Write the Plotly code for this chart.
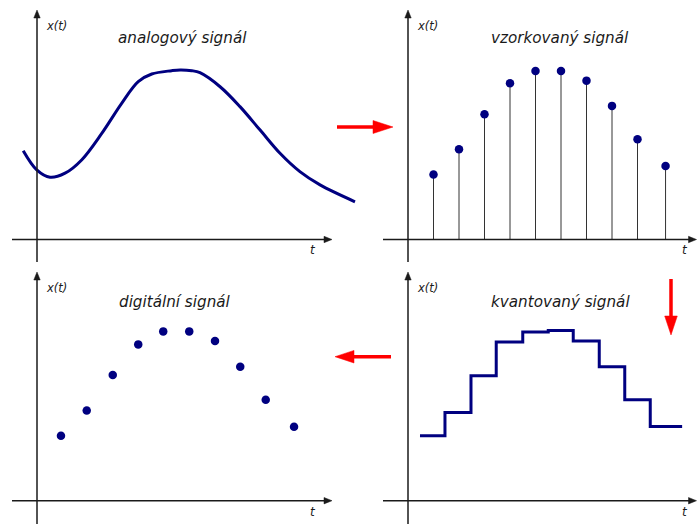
import plotly.graph_objects as go

# ---------------- data ----------------
# analog signal x(t)
analog_t = [-0.54, -0.01, 0.51, 1.10, 1.75, 2.54, 3.32, 3.97, 4.50, 5.28, 5.61,
            6.07, 6.39, 7.18, 7.96, 8.75, 9.53, 10.31, 11.10, 12.47]
analog_x = [3.48, 2.73, 2.44, 2.60, 3.12, 4.16, 5.34, 6.19, 6.49, 6.62, 6.65,
            6.62, 6.54, 5.99, 5.21, 4.29, 3.38, 2.66, 2.14, 1.48]

# sampled signal
sample_t = [1.0, 2.0, 3.0, 4.0, 5.0, 6.0, 7.0, 8.0, 9.0, 10.1]
sample_x = [2.55, 3.54, 4.91, 6.13, 6.61, 6.61, 6.23, 5.24, 3.93, 2.88]

# quantized signal (step edges and levels)
quant_edges = [0.47, 1.45, 2.47, 3.46, 4.50, 5.50, 6.48, 7.50, 8.50, 9.50, 10.75]
quant_levels = [2.55, 3.46, 4.90, 6.22, 6.62, 6.67, 6.26, 5.25, 3.96, 2.91]

# digital signal
digital_t = [0.94, 1.95, 2.97, 3.97, 4.95, 5.97, 6.98, 7.97, 8.97, 10.08]
digital_x = [2.55, 3.54, 4.93, 6.13, 6.64, 6.64, 6.26, 5.25, 3.96, 2.90]

titles = ["analogový signál", "vzorkovaný signál", "digitální signál", "kvantovaný signál"]
y_label = "x(t)"
t_label = "t"

# ---------------- layout geometry ----------------
W, H = 697, 524
S = 25.5  # pixels per unit
NAVY = "#000080"
AX = "#1a1a1a"
FONT = "DejaVu Sans"

# panels: (x0, x1, y0, y1, origin_x, origin_y) in pixels from top-left
panels = [
    (0, 364, 0, 262, 37, 239.5),
    (370, 697, 0, 262, 408, 239.5),
    (0, 364, 262, 524, 37, 500.7),
    (370, 697, 262, 524, 408, 500.7),
]

fig = go.Figure()
layout = {}
shapes = []
annotations = []

for i, (x0, x1, y0, y1, ox, oy) in enumerate(panels):
    n = "" if i == 0 else str(i + 1)
    xa, ya = "xaxis" + n, "yaxis" + n
    xr, yr = "x" + n, "y" + n
    layout[xa] = dict(domain=[x0 / W, x1 / W], range=[(x0 - ox) / S, (x1 - ox) / S],
                      showgrid=False, zeroline=False, showticklabels=False, ticks="",
                      showline=False, anchor=yr, fixedrange=True)
    layout[ya] = dict(domain=[1 - y1 / H, 1 - y0 / H], range=[(oy - y1) / S, (oy - y0) / S],
                      showgrid=False, zeroline=False, showticklabels=False, ticks="",
                      showline=False, anchor=xr, fixedrange=True)

    top = i < 2
    x_left = -25 / S
    x_tip = (295 if i % 2 == 0 else 288.5) / S
    y_bot = -(24.5 if top else 23.3) / S
    y_tip = (229.5 if top else 228.7) / S
    hl, hw = 8 / S, 3.2 / S
    # axis lines
    shapes.append(dict(type="line", xref=xr, yref=yr, x0=x_left, y0=0, x1=x_tip - hl * 0.5, y1=0,
                       line=dict(color=AX, width=1.5)))
    shapes.append(dict(type="line", xref=xr, yref=yr, x0=0, y0=y_bot, x1=0, y1=y_tip - hl * 0.5,
                       line=dict(color=AX, width=1.5)))
    # arrow heads
    shapes.append(dict(type="path", xref=xr, yref=yr,
                       path=f"M {x_tip} 0 L {x_tip - hl} {hw} L {x_tip - hl} {-hw} Z",
                       fillcolor=AX, line=dict(color=AX, width=0.5)))
    shapes.append(dict(type="path", xref=xr, yref=yr,
                       path=f"M 0 {y_tip} L {hw} {y_tip - hl} L {-hw} {y_tip - hl} Z",
                       fillcolor=AX, line=dict(color=AX, width=0.5)))
    # labels
    annotations.append(dict(xref=xr, yref=yr, x=19 / S, y=(213.5 if top else 212.7) / S,
                            text=y_label, showarrow=False, xanchor="center", yanchor="middle",
                            font=dict(family=FONT, size=11.5, color=AX, style="italic")))
    annotations.append(dict(xref=xr, yref=yr, x=(276 if i % 2 == 0 else 277) / S,
                            y=-(10.8 if top else 11.3) / S,
                            text=t_label, showarrow=False, xanchor="center", yanchor="middle",
                            font=dict(family=FONT, size=12, color=AX, style="italic")))

title_pos = [(182, 38), (560, 38), (175.5, 302), (560.5, 302)]
for (px_, py_), txt in zip(title_pos, titles):
    annotations.append(dict(xref="paper", yref="paper", x=px_ / W, y=1 - py_ / H, text=txt,
                            showarrow=False, xanchor="center", yanchor="middle",
                            font=dict(family=FONT, size=15.2, color=AX, style="italic")))

# ---------------- traces ----------------
# 1 analog
fig.add_trace(go.Scatter(x=analog_t, y=analog_x, mode="lines",
                         line=dict(color=NAVY, width=3, shape="spline", smoothing=1.0),
                         xaxis="x", yaxis="y", hoverinfo="skip"))
# 2 sampled: stems + dots
stem_x, stem_y = [], []
for t, v in zip(sample_t, sample_x):
    stem_x += [t, t, None]
    stem_y += [0, v, None]
fig.add_trace(go.Scatter(x=stem_x, y=stem_y, mode="lines", line=dict(color="#333333", width=1),
                         xaxis="x2", yaxis="y2", hoverinfo="skip"))
fig.add_trace(go.Scatter(x=sample_t, y=sample_x, mode="markers", marker=dict(color=NAVY, size=8.5),
                         xaxis="x2", yaxis="y2", hoverinfo="skip"))
# 3 digital
fig.add_trace(go.Scatter(x=digital_t, y=digital_x, mode="markers", marker=dict(color=NAVY, size=8.5),
                         xaxis="x3", yaxis="y3", hoverinfo="skip"))
# 4 quantized
fig.add_trace(go.Scatter(x=quant_edges, y=quant_levels + [quant_levels[-1]], mode="lines",
                         line=dict(color=NAVY, width=3, shape="hv"),
                         xaxis="x4", yaxis="y4", hoverinfo="skip"))

# ---------------- red process arrows (paper coords) ----------------
def px(x):
    return x / W

def py(y):
    return 1 - y / H

RED = "#ff0000"
# right arrow
shapes.append(dict(type="line", xref="paper", yref="paper", x0=px(337), y0=py(127), x1=px(375), y1=py(127),
                   line=dict(color=RED, width=3.5)))
shapes.append(dict(type="path", xref="paper", yref="paper",
                   path=f"M {px(393)} {py(127)} L {px(373)} {py(120.5)} L {px(373)} {py(133.5)} Z",
                   fillcolor=RED, line=dict(color=RED, width=0.5)))
# down arrow
shapes.append(dict(type="line", xref="paper", yref="paper", x0=px(671), y0=py(279), x1=px(671), y1=py(318),
                   line=dict(color=RED, width=3.5)))
shapes.append(dict(type="path", xref="paper", yref="paper",
                   path=f"M {px(671)} {py(335)} L {px(664.7)} {py(316)} L {px(677.3)} {py(316)} Z",
                   fillcolor=RED, line=dict(color=RED, width=0.5)))
# left arrow
shapes.append(dict(type="line", xref="paper", yref="paper", x0=px(391), y0=py(356.7), x1=px(352), y1=py(356.7),
                   line=dict(color=RED, width=3.5)))
shapes.append(dict(type="path", xref="paper", yref="paper",
                   path=f"M {px(335)} {py(356.7)} L {px(354)} {py(350.4)} L {px(354)} {py(363)} Z",
                   fillcolor=RED, line=dict(color=RED, width=0.5)))

fig.update_layout(width=W, height=H, margin=dict(l=0, r=0, t=0, b=0),
                  paper_bgcolor="white", plot_bgcolor="white", showlegend=False,
                  shapes=shapes, annotations=annotations, **layout)

fig.write_html("out.html", config={"displayModeBar": False},
               post_script="document.body.style.margin='0';document.body.style.overflow='hidden';")
